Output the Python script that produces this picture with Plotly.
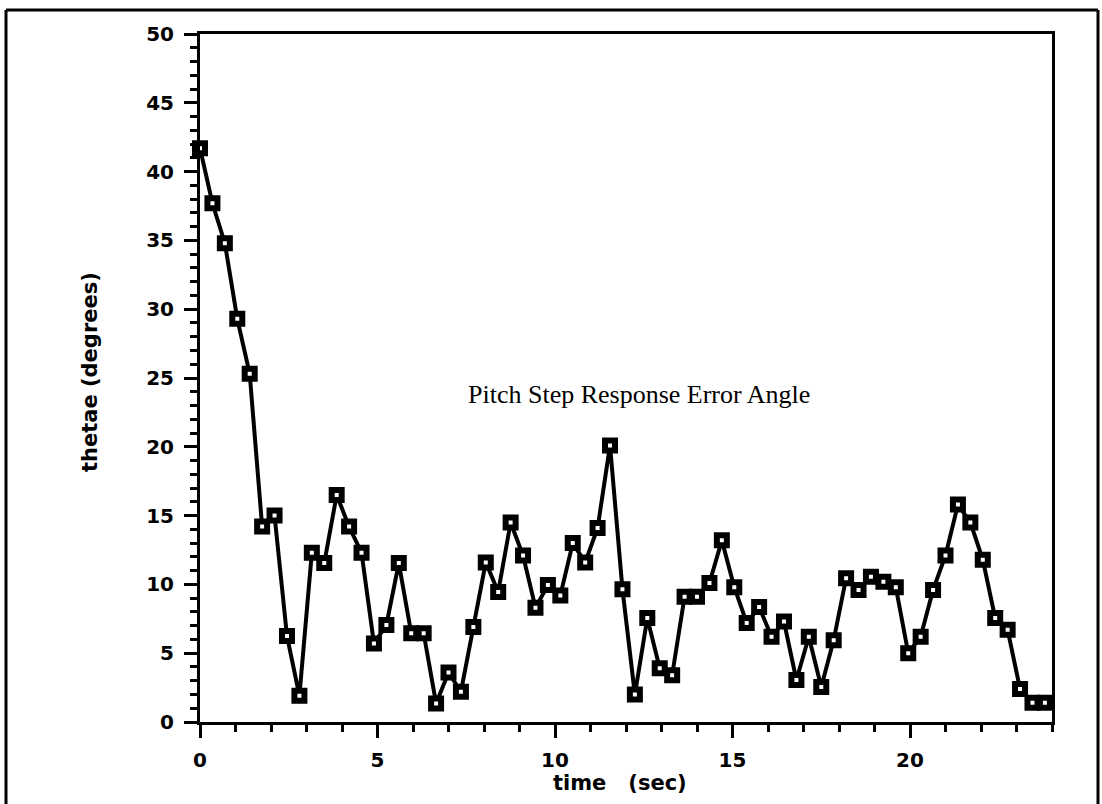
import plotly.graph_objects as go

# time (sec)
time_sec = [0.0, 0.35, 0.7, 1.05, 1.4, 1.75, 2.1, 2.45, 2.8, 3.15,
            3.5, 3.85, 4.2, 4.55, 4.9, 5.25, 5.6, 5.95, 6.3, 6.65,
            7.0, 7.35, 7.7, 8.05, 8.4, 8.75, 9.1, 9.45, 9.8, 10.15,
            10.5, 10.85, 11.2, 11.55, 11.9, 12.25, 12.6, 12.95, 13.3, 13.65,
            14.0, 14.35, 14.7, 15.05, 15.4, 15.75, 16.1, 16.45, 16.8, 17.15,
            17.5, 17.85, 18.2, 18.55, 18.9, 19.25, 19.6, 19.95, 20.3, 20.65,
            21.0, 21.35, 21.7, 22.05, 22.4, 22.75, 23.1, 23.45, 23.8]
# thetae (degrees)
thetae = [41.7, 37.7, 34.8, 29.3, 25.3, 14.2, 15.0, 6.25, 1.9, 12.3,
          11.55, 16.5, 14.2, 12.3, 5.7, 7.05, 11.55, 6.45, 6.45, 1.35,
          3.6, 2.2, 6.9, 11.6, 9.45, 14.5, 12.1, 8.3, 9.95, 9.2,
          13.0, 11.6, 14.1, 20.1, 9.65, 2.0, 7.55, 3.9, 3.4, 9.1,
          9.1, 10.1, 13.2, 9.8, 7.2, 8.35, 6.2, 7.3, 3.05, 6.2,
          2.55, 5.95, 10.45, 9.6, 10.55, 10.2, 9.8, 5.0, 6.2, 9.6,
          12.1, 15.8, 14.5, 11.8, 7.55, 6.7, 2.4, 1.4, 1.4]

x_ticks = [0, 5, 10, 15, 20]
y_ticks = [0, 5, 10, 15, 20, 25, 30, 35, 40, 45, 50]

chart_label = "Pitch Step Response Error Angle"
x_title = "time &nbsp;&nbsp;(sec)"
y_title = "thetae (degrees)"

W, H = 1102, 804
L, R, T, B = 200, 50, 34, 82
pw, ph = W - L - R, H - T - B

def px_x(p):
    return (p - L) / pw

def px_y(p):
    return (H - B - p) / ph

tick_font = dict(family="DejaVu Sans", size=20, color="black", weight="bold")
title_font = dict(family="DejaVu Sans", size=21, color="black", weight="bold")

fig = go.Figure()
fig.add_trace(go.Scatter(
    x=time_sec, y=thetae, mode="lines+markers",
    line=dict(color="black", width=4),
    marker=dict(symbol="square", size=10, color="white",
                line=dict(color="black", width=6)),
    showlegend=False, cliponaxis=False,
))

axis_common = dict(
    showline=True, linecolor="black", linewidth=3, mirror=True,
    showgrid=False, zeroline=False,
    ticks="outside", ticklen=13, tickwidth=3, tickcolor="black",
    tickfont=tick_font,
)

fig.update_xaxes(range=[0, 24], tickvals=x_ticks, ticktext=[str(v) for v in x_ticks],
                 minor=dict(dtick=1, ticks="outside", ticklen=7, tickwidth=3, tickcolor="black"),
                 ticklabelstandoff=5, **axis_common)
fig.update_yaxes(range=[0, 50], tickvals=y_ticks, ticktext=[str(v) for v in y_ticks],
                 minor=dict(dtick=1, ticks="outside", ticklen=7, tickwidth=3, tickcolor="black"),
                 ticklabelstandoff=6, **axis_common)

fig.add_annotation(x=12.37, y=23.8, xref="x", yref="y", text=chart_label,
                   showarrow=False, font=dict(family="Liberation Serif", size=26, color="black"))
fig.add_annotation(x=px_x(620), y=px_y(783), xref="paper", yref="paper", text=x_title,
                   showarrow=False, font=title_font, xanchor="center", yanchor="middle")
fig.add_annotation(x=px_x(90), y=px_y(372), xref="paper", yref="paper", text=y_title,
                   showarrow=False, font=title_font, textangle=-90, xanchor="center", yanchor="middle")

# outer page frame
frame = dict(type="line", xref="paper", yref="paper", line=dict(color="black", width=3))
fig.add_shape(x0=px_x(6), x1=px_x(1098), y0=px_y(10), y1=px_y(10), **frame)
fig.add_shape(x0=px_x(6), x1=px_x(6), y0=px_y(10), y1=px_y(820), **frame)
fig.add_shape(x0=px_x(1098), x1=px_x(1098), y0=px_y(10), y1=px_y(820), **frame)

fig.update_layout(
    width=W, height=H,
    margin=dict(l=L, r=R, t=T, b=B),
    paper_bgcolor="white", plot_bgcolor="white",
    font=dict(family="DejaVu Sans", color="black"),
)

fig.write_html("out.html")
